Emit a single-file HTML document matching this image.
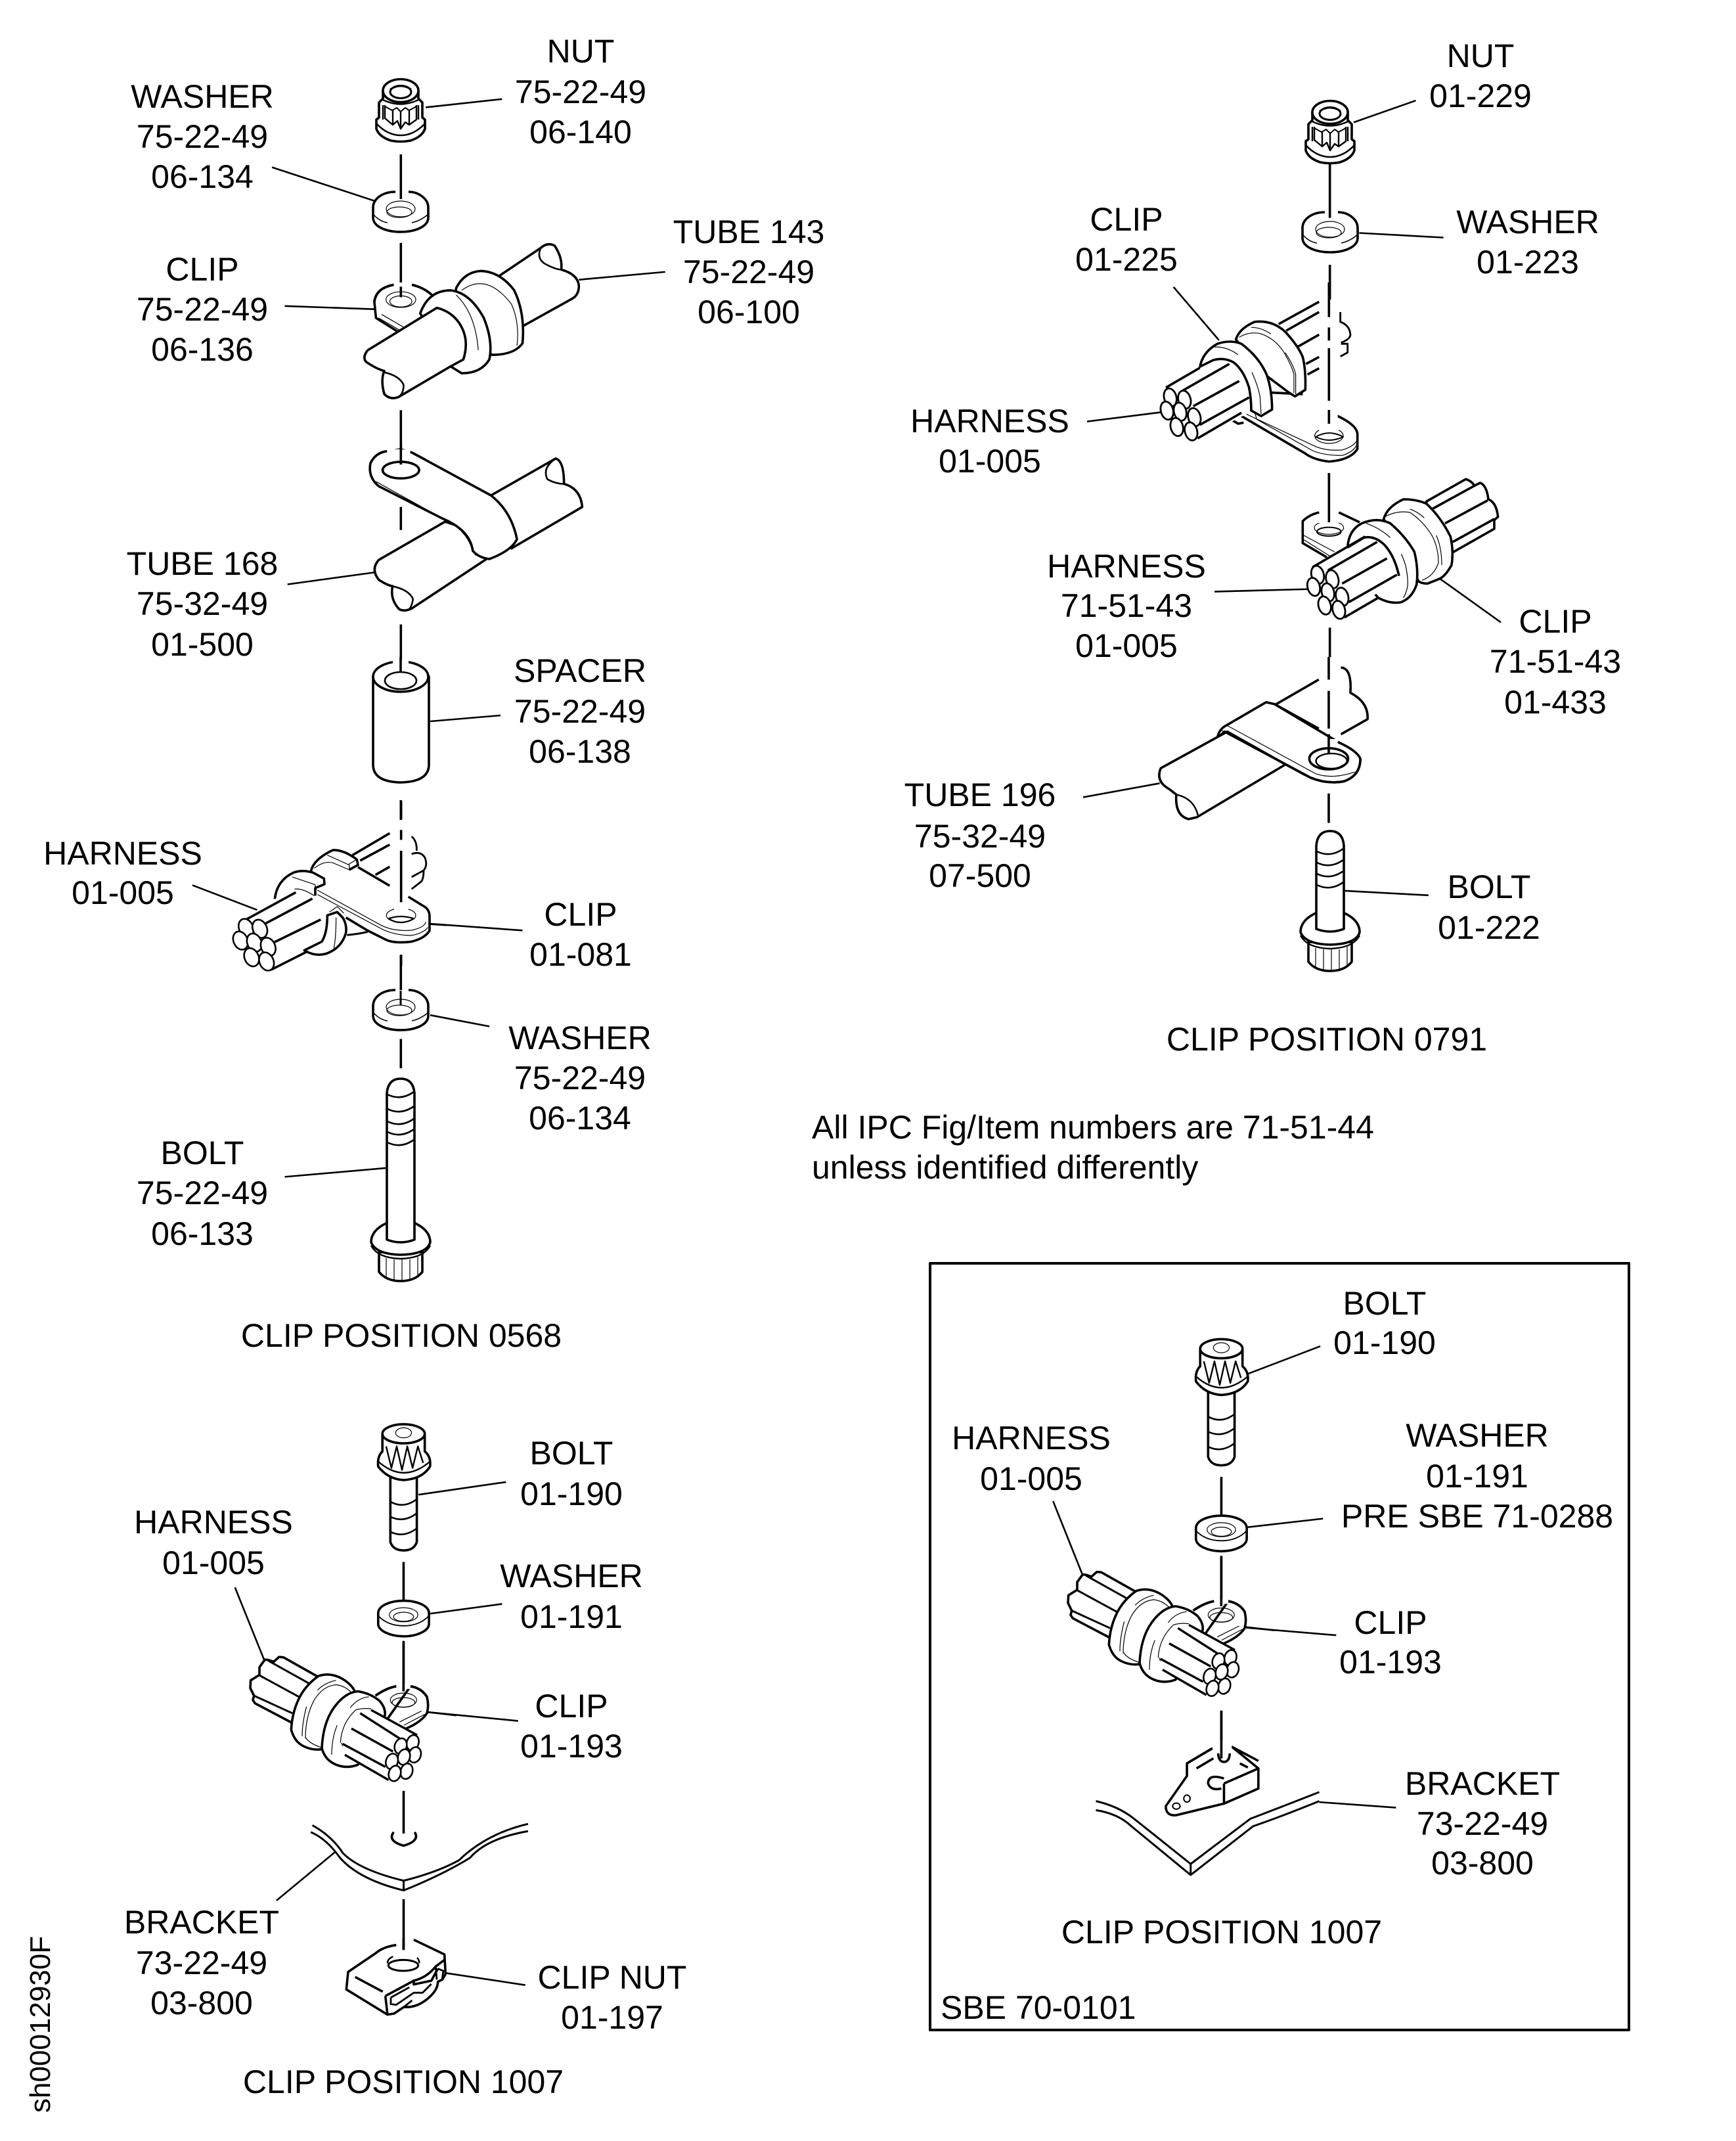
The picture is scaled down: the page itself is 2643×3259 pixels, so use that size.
<!DOCTYPE html>
<html><head><meta charset="utf-8"><style>
html,body{margin:0;padding:0;background:#fff}
svg{display:block}
svg *{vector-effect:non-scaling-stroke}
path,ellipse,line,rect{stroke:#000;stroke-width:3.6;fill:#fff;stroke-linejoin:round}
.n{fill:none}
.l{fill:none;stroke-width:2.6}
.t{fill:none;stroke-width:1.2}
.f{stroke:none}
.h{fill:none;stroke:#fff;stroke-width:5}
text{font-family:"Liberation Sans",sans-serif;font-size:50px;fill:#000;text-anchor:middle}
.s{text-anchor:start}
</style></head><body>
<svg width="2643" height="3259" viewBox="0 0 2643 3259" xmlns="http://www.w3.org/2000/svg">
<rect x="0" y="0" width="2643" height="3259" class="f" style="fill:#fff"/>
<defs>
<g id="nut">
<path d="M-27 0V12L-33 18V41L-37 44V58Q-33 70-15 76Q0 79 15 76Q33 70 37 58V44L33 41V18L27 12V0Z"/>
<ellipse cx="0" cy="0" rx="27" ry="17.5"/>
<ellipse class="n" cx="0" cy="2" rx="16" ry="9.5" style="stroke-width:3"/>
<path class="n" style="stroke-width:2.6" d="M-16 -2Q0 -12 16 -2"/>
<path class="n" style="stroke-width:2.4" d="M-27 14Q0 27 27 14"/>
<path class="n" style="stroke-width:2.4" d="M-27 22V44M-24 22V42L-12 52L-5 46L0 58L7 48L13 52L24 44V22M-12 30V52M0 32V58M13 30V52M27 22V44"/>
<path class="n" style="stroke-width:2" d="M-24 24L-13 30L-6 26L0 32L7 26L13 30L24 24"/>
<path class="n" style="stroke-width:2.6" d="M-37 50Q-20 68 0 68Q20 68 37 50"/>
</g>
<g id="wash">
<path d="M-8 -27C-28 -27-42 -16-42 -3V12C-42 26-22 34 0 34C22 34 42 26 42 12V-3C42 -16 28 -27 12 -27"/>
<path class="t" style="stroke-width:1.6" d="M-41 8Q-32 18-20 20M17 20Q30 17 41 8"/>
<ellipse class="t" cx="0" cy="-1" rx="22" ry="12"/><ellipse class="t" cx="-2" cy="4" rx="19" ry="8"/>
</g>
<g id="hd">
<path d="M-33 15V45Q-22 59 0 59Q22 59 33 45V15Z"/>
<path d="M-22-29Q-45-18-45 0Q-38 18 0 19Q40 18 45 0Q45-18 22-29Z"/>
<path class="t" d="M-22 24V54M-10 26V58M2 26V58M14 26V56M26 22V50"/>
<path class="n" d="M-45 5Q-35 24 0 25Q35 24 45 5" style="stroke-width:2.4"/>
</g>

<g id="asm">
<!-- bolt / washer / axis in box, Z6 coords -->
<g transform="translate(1380,1900) scale(.8058,.7651)">
<path d="M570 285V415Q575 432 595 432Q615 432 620 415V285Z"/>
<path class="n" style="stroke-width:2.6" d="M570 335Q595 350 620 330M570 365Q595 378 620 358M570 395Q595 408 620 388"/>
<path d="M555 200V235Q545 245 547 265Q565 290 595 292Q630 290 645 265Q647 245 635 235V200Z"/>
<ellipse cx="595" cy="200" rx="40" ry="19"/>
<ellipse class="t" cx="595" cy="198" rx="15" ry="10"/>
<path class="n" style="stroke-width:2.4" d="M562 225L572 268L582 225L592 272L602 225L612 268L622 225L632 258"/>
<path class="n" style="stroke-width:2.4" d="M547 255Q595 300 645 255"/>
<path class="n" d="M595 455V535"/>
<path d="M547 557C547 542 570 532 595 532C620 532 643 542 643 557V578C643 592 620 603 595 603C570 603 547 592 547 578Z"/>
<path class="t" style="stroke-width:1.8" d="M547 562Q565 582 595 582Q625 582 643 562"/>
<ellipse class="t" cx="595" cy="560" rx="27" ry="14"/><ellipse class="t" cx="595" cy="564" rx="19" ry="9"/>
<path class="n" d="M595 612V708"/>
</g>
<!-- harness Z9 coords -->
<g transform="translate(1590,2360) scale(.3333)">
<path d="M175 110L150 145V180L110 205L108 240L125 275L120 295L130 310L320 410L420 190L260 100L240 98L215 120Q190 110 175 110Z"/>
<path class="n" style="stroke-width:3" d="M190 115L375 218M150 182L330 280M125 275L300 355"/>
<path d="M295 430Q300 340 340 270Q370 220 420 185Q480 165 540 205Q575 230 585 255L600 400L430 520Q390 525 350 505Q310 485 295 430Z"/>
<path class="t" d="M415 250Q450 215 500 205M360 470Q360 370 400 295Q440 230 500 225Q540 230 570 260M345 460Q345 400 365 325M360 465Q380 495 430 510"/>
<path d="M680 275Q730 240 775 232M840 232Q890 240 915 280Q925 320 915 355Q890 395 820 425L700 430Z"/>
<path class="h" d="M775 232H840" style="stroke-width:8"/>
<path class="n" d="M680 275Q730 240 775 232M840 232Q890 240 915 280"/>
<ellipse class="t" cx="808" cy="295" rx="60" ry="32"/><ellipse class="t" cx="808" cy="306" rx="52" ry="22"/>
<path class="t" d="M790 395L890 345M810 410L905 360"/>
<path class="l" d="M920 350L1050 365"/>
<path d="M435 515Q440 400 490 330Q540 260 600 255Q660 265 700 300Q730 335 722 370L600 590Q550 610 500 590Q450 570 435 515Z"/>
<path class="t" d="M565 330Q600 285 650 280M520 490Q525 400 590 340Q620 330 660 335M480 545Q480 470 505 410M525 490Q535 530 590 575"/>
<path class="f" d="M660 340L870 450L895 540L850 640L750 665L540 545Q500 440 600 340Z"/>
<path class="n" style="stroke-width:3.4" d="M660 340L870 455M610 355L790 470M570 425L760 530M530 495L725 600M540 545L740 660"/>
<ellipse cx="850" cy="490" rx="27" ry="36" transform="rotate(18 850 490)" style="stroke-width:2.6"/>
<ellipse cx="795" cy="505" rx="27" ry="36" transform="rotate(18 795 505)" style="stroke-width:2.6"/>
<ellipse cx="860" cy="545" rx="27" ry="36" transform="rotate(18 860 545)" style="stroke-width:2.6"/>
<ellipse cx="810" cy="555" rx="27" ry="36" transform="rotate(18 810 555)" style="stroke-width:2.6"/>
<ellipse cx="755" cy="575" rx="27" ry="36" transform="rotate(18 755 575)" style="stroke-width:2.6"/>
<ellipse cx="822" cy="620" rx="27" ry="36" transform="rotate(18 822 620)" style="stroke-width:2.6"/>
<ellipse cx="768" cy="630" rx="27" ry="36" transform="rotate(18 768 630)" style="stroke-width:2.6"/>
<path class="n" d="M808 30V255"/>
</g>
</g>
</defs>

<!-- ================= LEFT TOP, Z1 coords ================= -->
<use href="#nut" x="610" y="138"/>
<use href="#wash" x="610" y="319"/>
<g transform="scale(.8418,.7015)">
<path class="l" d="M770 233L908 215M492 363L680 437M515 664L678 671M1203 590L1047 607M520 1268L678 1242"/>
<path class="n" d="M725 335V432M725 527V622M725 890V1000M725 1100V1150M725 1355V1460"/>
<!-- clip 136 -->
<path d="M712 618Q680 625 677 655L680 690L740 735L790 660L785 645Q770 625 745 618Z"/>
<path class="h" d="M712 618H745" style="stroke-width:7"/>
<path class="n" d="M712 618Q680 625 677 655M745 618Q770 625 785 645"/>
<ellipse class="t" cx="725" cy="650" rx="27" ry="17"/><ellipse class="t" cx="725" cy="654" rx="20" ry="12"/>
<path class="t" d="M690 682L730 710M685 690L725 718"/>
<path class="n" d="M725 622V645"/>
<!-- back tube -->
<path d="M905 597L978 538Q990 525 1003 533Q1018 560 1015 585Q1045 595 1047 620Q1047 640 1035 648L945 708L880 650Z"/>
<path class="n" style="stroke-width:2.6" d="M978 538Q970 560 985 572Q1005 585 1015 585"/>
<!-- rings -->
<path d="M825 625Q840 590 870 588Q905 590 930 630Q950 680 945 745Q930 770 890 770L820 700Z"/>
<path class="t" d="M835 630Q880 590 925 660Q940 700 935 750"/>
<path d="M760 680Q775 630 815 630Q850 635 875 690Q892 740 885 780Q870 810 835 810L815 795Z"/>
<path class="t" d="M825 640Q860 680 865 760"/>
<!-- front tube -->
<path d="M790 668L665 760Q655 775 662 785Q680 800 695 805Q688 825 695 855Q705 868 720 862L815 795L838 780Q850 735 830 700Q815 675 790 668Z"/>
<path class="n" style="stroke-width:2.6" d="M695 808Q722 815 730 835Q730 855 720 862"/>
<!-- tube 168 -->
<path d="M888 1075L1005 995Q1020 1000 1020 1050Q1050 1060 1053 1100L925 1190L860 1110Z"/>
<path class="n" style="stroke-width:2.6" d="M1005 995Q980 1015 990 1040Q1005 1050 1020 1050"/>
<path d="M805 1132L685 1215Q670 1235 685 1258Q700 1270 710 1272Q705 1300 722 1322Q732 1328 745 1320L880 1213L850 1150Z"/>
<path class="n" style="stroke-width:2.6" d="M710 1272Q740 1280 747 1300Q745 1315 740 1322"/>
<path d="M745 982L888 1075Q925 1110 935 1170Q925 1195 885 1213Q865 1210 855 1195Q850 1150 800 1125L685 1055Q665 1035 670 1005Q678 985 695 980L725 975Z"/>
<path class="h" d="M700 978L742 980" style="stroke-width:6"/>
<path class="n" d="M670 1005Q678 985 695 980M745 982L770 998"/>
<ellipse cx="725" cy="1020" rx="33" ry="18"/>
<path class="n" d="M725 960V1008"/>
<path class="t" d="M680 1045L790 1118Q835 1140 850 1180L860 1205"/>
</g>

<!-- spacer -->
<path d="M568 1030V1164Q568 1190 610 1191Q653 1190 653 1164V1030Z"/>
<ellipse cx="610" cy="1030" rx="42" ry="23"/>
<ellipse class="n" style="stroke-width:2.6" cx="610" cy="1036" rx="24" ry="13"/>
<path class="h" d="M598 1007H622" style="stroke-width:6"/>
<path class="n" d="M610 1000V1022"/>
<path class="l" d="M655 1098L762 1089"/>

<!-- ================= Z2 ================= -->
<g transform="translate(0,1100) scale(.8418,.6378)">
<path class="n" d="M725 185V232M725 555V660M725 755V825"/>
<path class="l" d="M348 388L465 447M778 480L945 496M778 698L885 725M515 1084L698 1063"/>
</g>
<use href="#wash" x="610" y="1534"/>
<path class="n" d="M610 1508V1530" style="stroke-width:3"/>
<!-- harness part in left col Z2 -->
<g transform="translate(0,1100) scale(.8418,.6378)">
<path class="f" d="M445 470L560 395L600 450L595 540L490 590L430 520Z"/>
<path class="n" d="M445 470L535 405M465 490L565 420M490 528L580 470M490 590L595 520"/>
<ellipse cx="445" cy="490" rx="13" ry="22" transform="rotate(-12 445 490)" style="stroke-width:2.6"/>
<ellipse cx="470" cy="492" rx="13" ry="22" transform="rotate(-12 470 492)" style="stroke-width:2.6"/>
<ellipse cx="435" cy="520" rx="13" ry="22" transform="rotate(-12 435 520)" style="stroke-width:2.6"/>
<ellipse cx="460" cy="525" rx="13" ry="22" transform="rotate(-12 460 525)" style="stroke-width:2.6"/>
<ellipse cx="485" cy="535" rx="13" ry="22" transform="rotate(-12 485 535)" style="stroke-width:2.6"/>
<ellipse cx="455" cy="560" rx="13" ry="22" transform="rotate(-12 455 560)" style="stroke-width:2.6"/>
<ellipse cx="482" cy="570" rx="13" ry="22" transform="rotate(-12 482 570)" style="stroke-width:2.6"/>
</g>
<!-- clip 081 detail, Z7 -->
<g transform="translate(380,1220) scale(.3333)">
<path class="n" d="M470 245L640 145M505 270L640 197M575 335L640 298M495 300L640 385"/>
<path class="n" style="stroke-width:2.8" d="M740 160Q765 180 763 225M740 240Q780 225 800 255Q815 290 795 315L740 345M795 315Q795 350 785 365L740 400"/>
<path class="n" d="M280 320Q290 265 380 222Q430 220 490 265L495 290L455 312"/>
<path class="t" d="M295 305Q340 270 380 280L455 312V285L490 265M355 245L455 290"/>
<path class="n" d="M115 445Q125 360 200 325Q240 310 290 325L340 352L342 378L300 395V430"/>
<path class="t" d="M195 345L300 380V395M205 400Q240 395 295 430M310 405L600 565Q660 595 740 588Q800 575 805 550M310 425L590 575Q650 610 735 612Q790 605 815 575"/>
<path class="n" d="M725 435L790 475Q820 490 822 520V590Q800 625 740 640Q660 650 620 630L540 590L440 530"/>
<path d="M355 520Q355 600 330 640L250 680Q300 710 350 695Q420 670 440 600Q445 560 425 530L400 505Z"/>
<path class="t" d="M395 530Q395 620 385 670M365 505L400 480L430 510"/>
<path class="n" d="M445 610Q500 605 540 595" style="stroke-width:3"/>
<ellipse class="t" cx="692" cy="520" rx="67" ry="32"/>
<path class="n" style="stroke-width:2.2" d="M635 535Q690 570 750 535Q690 515 635 535Z"/>
<path class="h" d="M660 490H725"/>
<path class="n" d="M692 0V80M692 130V175M692 225V460M692 700V750"/>
<path class="l" d="M825 560L900 565"/>
</g>

<!-- long bolt -->
<use href="#hd" x="610" y="1891"/>
<path d="M589 1664Q591 1642 610 1642Q629 1642 631 1664V1887Q610 1895 589 1887Z"/>
<path class="n" style="stroke-width:2.6" d="M590 1666Q610 1676 630 1662M590 1688Q610 1698 630 1684M590 1707Q610 1717 630 1703M590 1723Q610 1733 630 1719M590 1739Q610 1749 630 1735"/>

<!-- ================= LOWER LEFT, reuse ================= -->
<use href="#asm" x="-1245" y="129.5"/>
<g transform="translate(0,2100) scale(.8418,.7391)">
<path class="l" d="M757 237L915 211M778 482L908 462M775 685L937 703M425 428L478 578M500 1073L607 972M805 1222L950 1247"/>
<path class="n" d="M730 847V935M730 1070V1173"/>
<path class="n" d="M712 932Q700 950 730 960Q760 950 750 932"/>
<path class="n" style="stroke-width:3" d="M565 918Q600 940 620 975Q650 1010 730 1032Q790 1015 830 990Q880 935 955 915"/>
<path class="n" style="stroke-width:3" d="M562 932Q590 945 615 985Q650 1030 730 1052Q800 1020 850 985Q880 945 955 930M730 1032V1052"/>
</g>
<!-- clip nut -->
<g transform="translate(510,2950) scale(.3333)">
<path class="n" d="M280 32Q220 40 185 70L60 155L52 235L240 350L270 345L315 315Q370 320 420 280Q470 240 470 200L490 190L505 165L500 75L360 8"/>
<path class="n" d="M92 178L218 245M230 265L240 350M230 265L360 195Q420 180 460 130L500 100M360 195V212L440 195L470 140"/>
<path class="n" style="stroke-width:2.8" d="M255 272V302L280 305L360 250H400L440 210M255 272L340 225M315 315L352 285M460 130L465 190M470 140L495 150L490 185"/>
<ellipse class="n" cx="312" cy="125" rx="68" ry="25" style="stroke-width:3"/>
<path class="h" d="M265 88Q312 60 375 88" style="stroke-width:5"/>
<path class="n" style="stroke-width:2.6" d="M265 85Q240 95 240 115M385 115Q385 100 375 90"/>
<path class="n" d="M313 0V55"/>
</g>

<!-- ================= RIGHT TOP ================= -->
<use href="#nut" x="2025" y="171"/>
<use href="#wash" x="2025" y="350"/>
<g transform="translate(1320,0) scale(.8439,.6378)">
<path class="l" d="M878 292L990 240M888 556L1040 567M553 685L635 812M397 1006L530 984M627 1412L797 1406"/>
<path class="n" d="M835 392V520M835 632V715"/>
<path class="n" d="M835 1498V1568"/>
</g>
<!-- clip 225 Z8 -->
<g transform="translate(1750,430) scale(.3333)">
<path class="n" d="M590 190L775 88M625 220L775 135M680 292L775 238M715 372L775 340M722 420L775 392M695 515L775 565"/>
<path class="n" style="stroke-width:2.8" d="M872 135V180Q915 195 918 240Q915 260 875 275M875 280H905V320L872 338"/>
<path d="M860 610Q945 650 950 690V760Q920 810 820 818Q750 810 710 780L420 610L500 500L700 510L820 600Z"/>
<path class="f" d="M700 505H860V640H700Z"/>
<path class="t" d="M440 600L750 745Q800 770 880 765Q930 750 945 725M480 590L490 625L740 765Q790 790 880 790Q930 775 945 745"/>
<path class="n" d="M380 630L405 645L430 640"/>
<ellipse class="t" cx="820" cy="700" rx="65" ry="35"/>
<path class="n" style="stroke-width:2" d="M760 705Q820 735 885 705Q820 670 760 705Z"/>
<path class="h" d="M775 670H865"/>
<path d="M395 260Q410 210 480 180Q560 170 620 225Q680 290 700 340Q715 400 712 490L665 520L640 505L500 400Z"/>
<path class="t" d="M410 250Q450 225 500 232Q570 250 615 320Q650 380 660 420V505M465 205Q510 205 555 235M620 320Q660 380 668 420V510"/>
<path d="M230 390Q240 320 310 280Q370 260 420 280Q500 340 535 420Q560 490 560 580L510 610L465 585L380 480Z"/>
<path class="t" d="M290 295Q350 290 405 330M468 410Q495 470 505 520L510 600"/>
<path class="f" d="M65 490L290 355Q400 350 465 590L220 715L100 690Z"/>
<path class="n" d="M230 385L290 355Q340 340 385 365Q430 400 455 480Q465 530 465 590"/>
<path class="n" d="M75 480L230 390M150 495L365 372M200 565L410 450M230 650L455 525M220 712L420 595"/>
<ellipse cx="95" cy="525" rx="28" ry="42" transform="rotate(-15 95 525)" style="stroke-width:2.8"/>
<ellipse cx="160" cy="535" rx="28" ry="42" transform="rotate(-15 160 535)" style="stroke-width:2.8"/>
<ellipse cx="80" cy="585" rx="28" ry="42" transform="rotate(-15 80 585)" style="stroke-width:2.8"/>
<ellipse cx="140" cy="590" rx="28" ry="42" transform="rotate(-15 140 590)" style="stroke-width:2.8"/>
<ellipse cx="205" cy="615" rx="28" ry="42" transform="rotate(-15 205 615)" style="stroke-width:2.8"/>
<ellipse cx="125" cy="660" rx="28" ry="42" transform="rotate(-15 125 660)" style="stroke-width:2.8"/>
<ellipse cx="190" cy="680" rx="28" ry="42" transform="rotate(-15 190 680)" style="stroke-width:2.8"/>
<path class="n" d="M820 0V158M820 205V265M820 300V540M820 582V645M820 870V900"/>
</g>
<!-- clip 71-51-43 crop coords -->
<g transform="translate(1960,700) scale(.3333)">
<path class="f" d="M145 240Q100 250 70 280L65 380L180 445L340 290L240 240Z"/>
<path class="n" d="M145 240Q100 250 70 280V380L180 445M235 240L330 285"/>
<ellipse class="t" cx="190" cy="310" rx="67" ry="30"/>
<path class="h" d="M140 280H240"/>
<ellipse class="n" cx="190" cy="328" rx="55" ry="20" style="stroke-width:2"/>
<path class="t" d="M75 345L215 420M75 365L195 440"/>
<path d="M635 190L815 88Q840 95 855 118L880 105Q910 115 918 180Q955 195 962 260L945 275V315L760 420L640 300Z"/>
<path class="n" d="M660 225L855 118M720 290L915 185M755 375L945 270"/>
<path d="M440 270Q455 215 530 180Q590 180 635 200Q700 260 745 350Q760 420 750 480Q720 535 690 545L640 565Q615 565 600 555L500 380Z"/>
<path class="t" d="M445 260Q500 230 560 240Q620 280 660 345Q690 400 690 470Q670 530 615 550M560 225Q600 240 625 265M680 345Q705 400 705 480"/>
<path d="M275 400Q280 320 340 290Q410 260 470 290Q540 350 580 420Q600 500 590 570Q570 630 520 650Q470 660 415 630L300 500Z"/>
<path class="t" d="M360 290Q420 310 470 355M520 430Q550 490 550 570Q545 605 530 630"/>
<path class="f" d="M110 490L350 350Q500 400 510 530L260 725L140 680Z"/>
<path class="n" d="M275 400L350 355Q400 345 445 390Q490 440 510 530"/>
<path class="n" d="M115 490L355 350M185 505L410 375M250 565L455 450M280 650L500 525M260 720L415 630"/>
<ellipse cx="138" cy="525" rx="28" ry="42" transform="rotate(-15 138 525)" style="stroke-width:2.8"/>
<ellipse cx="205" cy="545" rx="28" ry="42" transform="rotate(-15 205 545)" style="stroke-width:2.8"/>
<ellipse cx="120" cy="580" rx="28" ry="42" transform="rotate(-15 120 580)" style="stroke-width:2.8"/>
<ellipse cx="185" cy="605" rx="28" ry="42" transform="rotate(-15 185 605)" style="stroke-width:2.8"/>
<ellipse cx="250" cy="625" rx="28" ry="42" transform="rotate(-15 250 625)" style="stroke-width:2.8"/>
<ellipse cx="170" cy="665" rx="28" ry="42" transform="rotate(-15 170 665)" style="stroke-width:2.8"/>
<ellipse cx="235" cy="685" rx="28" ry="42" transform="rotate(-15 235 685)" style="stroke-width:2.8"/>
<path class="n" d="M190 60V285"/>
<path class="l" d="M700 545L975 742"/>
</g>
<!-- tube 196 Z5 -->
<g transform="translate(1320,1000) scale(.8439,.5741)">
<path class="n" d="M833 0V60M833 90V190M833 205V250M833 362V440"/>
<path class="n" d="M735 128L815 60M815 190L735 125M855 205L903 165Q905 120 872 95Q875 30 855 28"/>
<path d="M632 215Q635 190 650 180L720 120L735 125L815 195L853 228Q885 250 890 270Q890 315 860 330Q830 338 800 320L645 198Z"/>
<path class="t" d="M650 182L810 310Q840 325 880 305M640 195L790 315"/>
<path class="h" d="M818 222L850 222"/>
<path d="M650 198L530 295Q520 330 545 350L558 365Q555 420 580 430L595 425L755 285Z"/>
<path class="n" d="M558 365Q590 375 597 420" style="stroke-width:2.4"/>
<path class="n" d="M645 198L800 320Q830 338 860 330Q890 315 890 270"/>
<ellipse cx="833" cy="270" rx="35" ry="28"/>
<ellipse class="n" cx="838" cy="276" rx="28" ry="20" style="stroke-width:2.4"/>
<path class="n" d="M833 205V255"/>
<path class="l" d="M390 372L528 335M862 620L1013 632"/>
</g>
<use href="#hd" x="2025" y="1419"/>
<path d="M2004 1287Q2006 1265 2025 1265Q2044 1265 2046 1287V1414Q2025 1422 2004 1414Z"/>
<path class="n" style="stroke-width:2.6" d="M2005 1296Q2025 1306 2045 1292M2005 1313Q2025 1323 2045 1309M2005 1330Q2025 1340 2045 1326M2005 1347Q2025 1357 2045 1343"/>

<!-- ================= BOX ================= -->
<rect class="n" x="1416" y="1923" width="1064" height="1167" style="stroke-width:4"/>
<use href="#asm"/>
<g transform="translate(1380,1900) scale(.8058,.7651)">
<path class="l" d="M645 250L782 195M645 555L787 538M642 755L812 770M277 503L332 648"/>
<path class="n" d="M595 920V1020"/>
<path d="M578 995L530 1025V1050L490 1110Q490 1130 510 1128L600 1105L665 1075V1035L615 992L595 1000Z"/>
<path class="h" d="M578 995L615 992" style="stroke-width:8"/>
<path class="n" d="M578 995L530 1025M615 992L665 1020"/>
<path class="f" d="M583 980H612V1025H583Z"/>
<path class="n" d="M589 1005Q590 1022 600 1022Q610 1022 611 1005M595 920V1015"/>
<path class="n" d="M548 1035L580 1015M630 1025L645 1033M600 1065L665 1035M600 1065V1105"/>
<path class="n" d="M600 1055Q570 1045 570 1065Q575 1080 595 1075"/>
<ellipse class="n" cx="530" cy="1095" rx="6" ry="7" style="stroke-width:2"/><ellipse class="n" cx="510" cy="1110" rx="7" ry="6" style="stroke-width:2"/>
<path class="n" d="M358 1100Q400 1110 430 1135L537 1225L650 1135Q700 1115 780 1082M358 1118Q400 1125 425 1150L537 1247L655 1150Q710 1130 780 1100M537 1225V1247" style="stroke-width:3"/>
<path class="l" d="M780 1102L925 1113"/>
</g>

<!-- ================= TEXT ================= -->
<text x="884" y="95">NUT</text><text x="884" y="157">75-22-49</text><text x="884" y="218">06-140</text>
<text x="308" y="164">WASHER</text><text x="308" y="225">75-22-49</text><text x="308" y="286">06-134</text>
<text x="308" y="427">CLIP</text><text x="308" y="488">75-22-49</text><text x="308" y="549">06-136</text>
<text x="1140" y="370">TUBE 143</text><text x="1140" y="431">75-22-49</text><text x="1140" y="492">06-100</text>
<text x="308" y="875">TUBE 168</text><text x="308" y="936">75-32-49</text><text x="308" y="998">01-500</text>
<text x="883" y="1038">SPACER</text><text x="883" y="1100">75-22-49</text><text x="883" y="1161">06-138</text>
<text x="187" y="1316">HARNESS</text><text x="187" y="1376">01-005</text>
<text x="884" y="1409">CLIP</text><text x="884" y="1470">01-081</text>
<text x="883" y="1597">WASHER</text><text x="883" y="1658">75-22-49</text><text x="883" y="1719">06-134</text>
<text x="308" y="1772">BOLT</text><text x="308" y="1833">75-22-49</text><text x="308" y="1895">06-133</text>
<text x="611" y="2050">CLIP POSITION 0568</text>
<text class="s" x="1236" y="1733">All IPC Fig/Item numbers are 71-51-44</text>
<text class="s" x="1236" y="1794">unless identified differently</text>
<text x="870" y="2229">BOLT</text><text x="870" y="2291">01-190</text>
<text x="870" y="2416">WASHER</text><text x="870" y="2478">01-191</text>
<text x="870" y="2614">CLIP</text><text x="870" y="2675">01-193</text>
<text x="325" y="2334">HARNESS</text><text x="325" y="2396">01-005</text>
<text x="307" y="2943">BRACKET</text><text x="307" y="3005">73-22-49</text><text x="307" y="3066">03-800</text>
<text x="932" y="3027">CLIP NUT</text><text x="932" y="3088">01-197</text>
<text x="614" y="3186">CLIP POSITION 1007</text>
<text x="0" y="0" transform="translate(76,3216) rotate(-90)" class="s" style="font-size:44px">sh00012930F</text>
<text x="2254" y="102">NUT</text><text x="2254" y="163">01-229</text>
<text x="2326" y="355">WASHER</text><text x="2326" y="416">01-223</text>
<text x="1715" y="351">CLIP</text><text x="1715" y="412">01-225</text>
<text x="1507" y="658">HARNESS</text><text x="1507" y="719">01-005</text>
<text x="1715" y="879">HARNESS</text><text x="1715" y="939">71-51-43</text><text x="1715" y="1000">01-005</text>
<text x="2368" y="963">CLIP</text><text x="2368" y="1024">71-51-43</text><text x="2368" y="1086">01-433</text>
<text x="1492" y="1227">TUBE 196</text><text x="1492" y="1290">75-32-49</text><text x="1492" y="1350">07-500</text>
<text x="2267" y="1367">BOLT</text><text x="2267" y="1429">01-222</text>
<text x="2020" y="1599">CLIP POSITION 0791</text>
<text x="2108" y="2001">BOLT</text><text x="2108" y="2061">01-190</text>
<text x="2249" y="2202">WASHER</text><text x="2249" y="2264">01-191</text><text x="2249" y="2325">PRE SBE 71-0288</text>
<text x="1570" y="2206">HARNESS</text><text x="1570" y="2268">01-005</text>
<text x="2117" y="2487">CLIP</text><text x="2117" y="2547">01-193</text>
<text x="2257" y="2732">BRACKET</text><text x="2257" y="2793">73-22-49</text><text x="2257" y="2853">03-800</text>
<text x="1860" y="2958">CLIP POSITION 1007</text>
<text class="s" x="1432" y="3073">SBE 70-0101</text>
</svg>
</body></html>
